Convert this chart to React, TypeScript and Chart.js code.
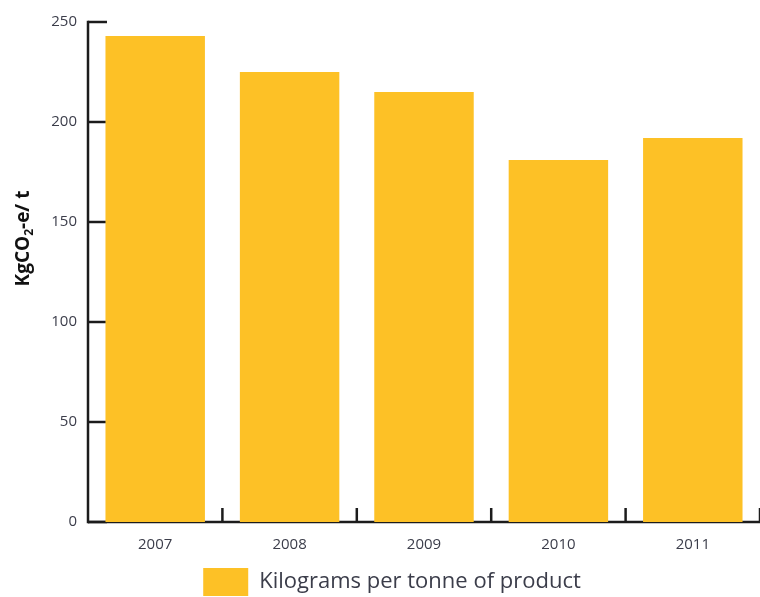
import React, { useEffect, useRef } from "react";
import { Chart, registerables } from "chart.js";

Chart.register(...registerables);

const years = ["2007", "2008", "2009", "2010", "2011"];
const kgPerTonne = [243, 225, 215, 181, 192];
const seriesLabel = "Kilograms per tonne of product";
const yTicks = [0, 50, 100, 150, 200, 250];
const yTitleMain = "KgCO";
const yTitleSub = "2";
const yTitleEnd = "-e/ t";

const BAR = "#FDC126";
const INK = "#1c1c1c";
const TXT = "#3b3d4a";
const FONT = "'Open Sans', 'Noto Sans', sans-serif";

const axisPlugin = {
  id: "customAxes",
  beforeDatasetsDraw(chart: any) {
    const { ctx, chartArea, scales } = chart;
    const x = scales.x;
    const y = scales.y;
    ctx.save();
    ctx.strokeStyle = INK;
    ctx.lineWidth = 2.5;
    ctx.lineCap = "butt";
    const y0 = y.getPixelForValue(0);
    const yTop = y.getPixelForValue(yTicks[yTicks.length - 1]);
    ctx.beginPath();
    ctx.moveTo(chartArea.left, yTop - 1.25);
    ctx.lineTo(chartArea.left, y0 + 1.25);
    ctx.stroke();
    yTicks.forEach((v) => {
      const py = y.getPixelForValue(v);
      ctx.beginPath();
      ctx.moveTo(chartArea.left, py);
      ctx.lineTo(chartArea.left + 19, py);
      ctx.stroke();
    });
    ctx.beginPath();
    ctx.moveTo(chartArea.left, y0);
    ctx.lineTo(chartArea.right, y0);
    ctx.stroke();
    const n = years.length;
    const step = x.getPixelForValue(1) - x.getPixelForValue(0);
    for (let i = 0; i < n; i++) {
      const bx = x.getPixelForValue(i) + step / 2;
      ctx.beginPath();
      ctx.moveTo(bx, y0);
      ctx.lineTo(bx, y0 - 14);
      ctx.stroke();
    }
    ctx.restore();
  },
  afterDraw(chart: any) {
    const { ctx, chartArea } = chart;
    ctx.save();
    const cy = chartArea.top + (chartArea.bottom - chartArea.top) * 0.433;
    ctx.translate(24, cy);
    ctx.rotate(-Math.PI / 2);
    ctx.fillStyle = "#111";
    ctx.textBaseline = "middle";
    ctx.textAlign = "left";
    const big = `bold 19px ${FONT}`;
    const small = `bold 12px ${FONT}`;
    ctx.font = big;
    const w1 = ctx.measureText(yTitleMain).width;
    const w3 = ctx.measureText(yTitleEnd).width;
    ctx.font = small;
    const w2 = ctx.measureText(yTitleSub).width;
    let sx = -(w1 + w2 + w3) / 2;
    ctx.font = big;
    ctx.fillText(yTitleMain, sx, 0);
    sx += w1;
    ctx.font = small;
    ctx.fillText(yTitleSub, sx, 6);
    sx += w2;
    ctx.font = big;
    ctx.fillText(yTitleEnd, sx, 0);
    ctx.restore();
  },
  afterLayout(chart: any) {
    const l = chart.legend;
    if (l) {
      l.left += 12;
      l.right += 12;
      l.top += 9;
      l.bottom += 9;
    }
  },
};

export default function App() {
  const ref = useRef<HTMLCanvasElement | null>(null);
  useEffect(() => {
    if (!ref.current) return;
    const chart = new Chart(ref.current, {
      type: "bar",
      data: {
        labels: years,
        datasets: [
          {
            label: seriesLabel,
            data: kgPerTonne,
            backgroundColor: BAR,
            borderWidth: 0,
            barPercentage: 0.74,
            categoryPercentage: 1,
          },
        ],
      },
      options: {
        animation: false,
        responsive: true,
        maintainAspectRatio: false,
        layout: { padding: { top: 22, right: 0, left: 0, bottom: 0 } },
        plugins: {
          tooltip: { enabled: false },
          legend: {
            position: "bottom",
            labels: {
              boxWidth: 45,
              boxHeight: 28,
              padding: 0,
              color: TXT,
              font: { family: FONT, size: 22 },
            },
          },
        },
        scales: {
          x: {
            grid: { display: false, drawTicks: false },
            border: { display: false },
            ticks: { color: TXT, font: { family: FONT, size: 15 }, padding: 14 },
            afterFit(scale: any) {
              scale.height = 37;
            },
          },
          y: {
            min: 0,
            max: 250,
            grid: { display: false, drawTicks: false },
            border: { display: false },
            ticks: {
              stepSize: 50,
              color: TXT,
              font: { family: FONT, size: 15 },
              padding: 11,
            },
            afterFit(scale: any) {
              scale.width = 88;
            },
          },
        },
      },
      plugins: [axisPlugin],
    });
    return () => chart.destroy();
  }, []);
  return (
    <div style={{ position: "absolute", left: 0, top: 0, width: 760, height: 597 }}>
      <canvas ref={ref} />
    </div>
  );
}
